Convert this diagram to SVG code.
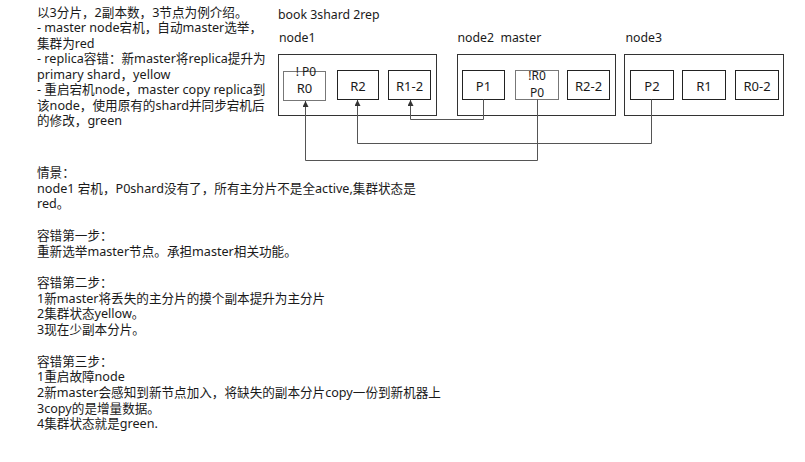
<svg xmlns="http://www.w3.org/2000/svg" width="805" height="462" viewBox="0 0 805 462">
<style>
  text { font-family: "Noto Sans", "Noto Sans CJK SC", sans-serif; fill: #1a1a1a; }
  .t { font-size: 12.6px; }
  .lbl { font-size: 12.3px; }
  .in { font-size: 13px; text-anchor: middle; }
  .sm { font-size: 12px; text-anchor: middle; }
  .node { fill: #fff; stroke: #333; stroke-width: 1; }
  .shard { fill: #fff; stroke: #222; stroke-width: 1; }
  .gone { fill: #fff; stroke: #777; stroke-width: 1; }
  .conn { fill: none; stroke: #555; stroke-width: 1; marker-end: url(#arr); }
</style>
<defs>
  <marker id="arr" viewBox="0 0 10 10" refX="10" refY="5" markerWidth="7" markerHeight="6" markerUnits="userSpaceOnUse" orient="auto">
    <path d="M0,0 L10,5 L0,10 z" fill="#333"/>
  </marker>
</defs>
<rect width="805" height="462" fill="#fff"/>

<g id="intro">
  <text class="t" x="37" y="16.5">以3分片，2副本数，3节点为例介绍。</text>
  <text class="t" x="37" y="32">- master node宕机，自动master选举，</text>
  <text class="t" x="37" y="47.5">集群为red</text>
  <text class="t" x="37" y="63">- replica容错：新master将replica提升为</text>
  <text class="t" x="37" y="78.5">primary shard，yellow</text>
  <text class="t" x="37" y="94">- 重启宕机node，master copy replica到</text>
  <text class="t" x="37" y="109.5">该node，使用原有的shard并同步宕机后</text>
  <text class="t" x="37" y="125">的修改，green</text>
</g>

<g id="title">
  <text class="lbl" x="278" y="18.5">book 3shard 2rep</text>
</g>

<g id="node1">
  <text class="lbl" x="279" y="41.5">node1</text>
  <rect class="node" x="278.5" y="54.5" width="158" height="61"/>
  <g id="node1-R0">
    <rect class="gone" x="283.5" y="71.5" width="42" height="29"/>
    <text class="sm" x="306" y="76">! P0</text>
    <text class="in" x="304.5" y="92.5">R0</text>
  </g>
  <g id="node1-R2">
    <rect class="shard" x="337.5" y="70.5" width="41" height="29"/>
    <text class="in" x="358" y="90.5">R2</text>
  </g>
  <g id="node1-R1-2">
    <rect class="shard" x="388.5" y="70.5" width="42" height="29"/>
    <text class="in" x="409.5" y="90.5">R1-2</text>
  </g>
</g>

<g id="node2">
  <text class="lbl" x="457.5" y="41.5" xml:space="preserve">node2  master</text>
  <rect class="node" x="457.5" y="54.5" width="158" height="61"/>
  <g id="node2-P1">
    <rect class="shard" x="462.5" y="70.5" width="42" height="29"/>
    <text class="in" x="483.5" y="90.5">P1</text>
  </g>
  <g id="node2-P0">
    <rect class="gone" x="515.5" y="70.5" width="43" height="29"/>
    <text class="sm" x="537" y="80">!R0</text>
    <text class="sm" x="537" y="97">P0</text>
  </g>
  <g id="node2-R2-2">
    <rect class="shard" x="567.5" y="70.5" width="42" height="29"/>
    <text class="in" x="588.5" y="90.5">R2-2</text>
  </g>
</g>

<g id="node3">
  <text class="lbl" x="625.5" y="41.5">node3</text>
  <rect class="node" x="624.5" y="54.5" width="159" height="61"/>
  <g id="node3-P2">
    <rect class="shard" x="630.5" y="70.5" width="43" height="29"/>
    <text class="in" x="652" y="90.5">P2</text>
  </g>
  <g id="node3-R1">
    <rect class="shard" x="682.5" y="70.5" width="43" height="29"/>
    <text class="in" x="704" y="90.5">R1</text>
  </g>
  <g id="node3-R0-2">
    <rect class="shard" x="735.5" y="70.5" width="43" height="29"/>
    <text class="in" x="757" y="90.5">R0-2</text>
  </g>
</g>

<g id="connectors">
  <path class="conn" d="M483.5,99.5 V119.5 H410.5 V100"/>
  <path class="conn" d="M651.5,99.5 V143.5 H357.5 V100"/>
  <path class="conn" d="M537.5,99.5 V160.5 H305.5 V101"/>
</g>

<g id="notes">
  <text class="t" x="37" y="177">情景：</text>
  <text class="t" x="37" y="192.7">node1 宕机，P0shard没有了，所有主分片不是全active,集群状态是</text>
  <text class="t" x="37" y="208.4">red。</text>
  <text class="t" x="37" y="239.9">容错第一步：</text>
  <text class="t" x="37" y="255.6">重新选举master节点。承担master相关功能。</text>
  <text class="t" x="37" y="287">容错第二步：</text>
  <text class="t" x="37" y="302.7">1新master将丢失的主分片的摸个副本提升为主分片</text>
  <text class="t" x="37" y="318.4">2集群状态yellow。</text>
  <text class="t" x="37" y="334.1">3现在少副本分片。</text>
  <text class="t" x="37" y="365.6">容错第三步：</text>
  <text class="t" x="37" y="381.3">1重启故障node</text>
  <text class="t" x="37" y="397">2新master会感知到新节点加入，将缺失的副本分片copy一份到新机器上</text>
  <text class="t" x="37" y="412.7">3copy的是增量数据。</text>
  <text class="t" x="37" y="428.4">4集群状态就是green.</text>
</g>
</svg>
